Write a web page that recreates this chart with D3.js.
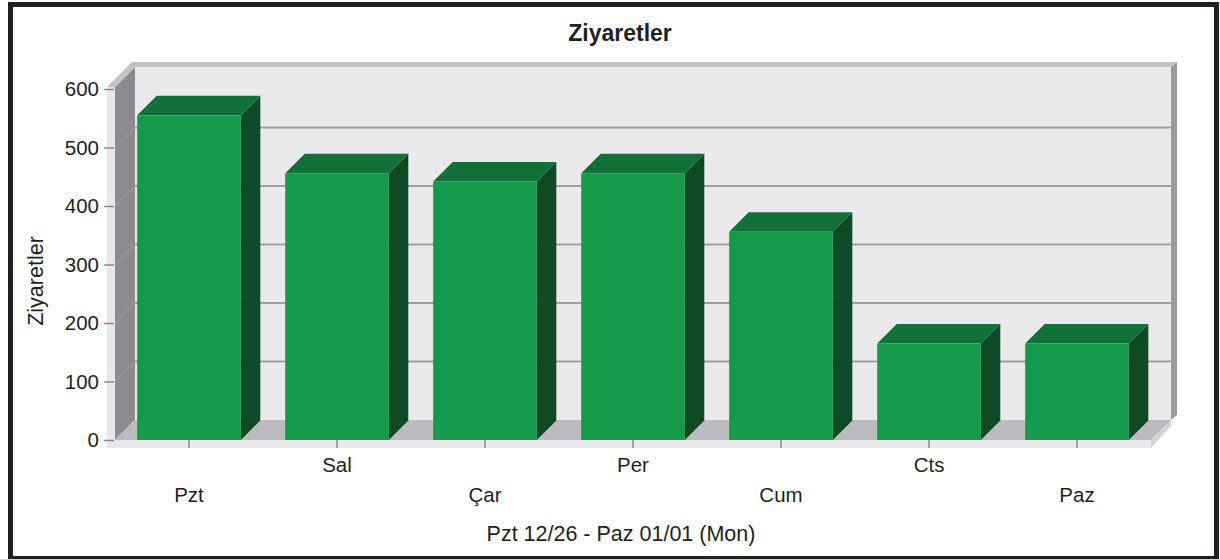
<!DOCTYPE html>
<html>
<head>
<meta charset="utf-8">
<script src="https://cdn.jsdelivr.net/npm/d3@7"></script>
<style>
    body { margin: 0; background: #fff; }
    svg { display: block; font-family: "Liberation Sans", Arial, sans-serif; }
    text { fill: #231f20; }
</style>
</head>
<body>
<svg id="chart" width="1220" height="559"></svg>
<script>
const categories = ['Pzt', 'Sal', 'Çar', 'Per', 'Cum', 'Cts', 'Paz'];
const visits = [555, 456, 442, 456, 356, 165, 165];
const yTicks = [0, 100, 200, 300, 400, 500, 600];
const gridValues = [100, 200, 300, 400, 500];
const chartTitle = 'Ziyaretler';
const yTitle = 'Ziyaretler';
const xTitle = 'Pzt 12/26 - Paz 01/01 (Mon)';

const svg = d3.select('#chart');
const depth = 20;      // depth of the 3d box
const barDepth = 19.5;

const x = d3.scaleBand()
    .domain(categories)
    .range([115, 1151])
    .paddingInner(0.3)
    .paddingOuter(0.15);
const y = d3.scaleLinear().domain([0, 600]).range([440, 89]);
const y0 = y(0);

const poly = (pts, fill) => svg.append('polygon')
    .attr('points', pts.map(p => p.join(',')).join(' '))
    .attr('fill', fill);

// back wall
const left = x.range()[0], right = x.range()[1];
svg.append('rect')
    .attr('x', left + depth).attr('y', y(600) - depth - 2)
    .attr('width', right - left).attr('height', y0 - y(600) + 2)
    .attr('fill', '#eaeaec');
poly([[left + depth - 8, y(600) - depth - 2], [right + depth, y(600) - depth - 2],
      [right + depth + 6, y(600) - depth - 7], [left + depth - 3, y(600) - depth - 7]], '#c3c3c5');
poly([[right + depth, y(600) - depth - 2], [right + depth + 6, y(600) - depth - 7],
      [right + depth + 6, y0 - depth - 5], [right + depth, y0 - depth]], '#9a9a9d');

// gridlines on the back wall
svg.append('g').selectAll('line')
    .data(gridValues)
    .join('line')
    .attr('x1', left + depth).attr('x2', right + depth)
    .attr('y1', d => y(d) - depth).attr('y2', d => y(d) - depth)
    .attr('stroke', '#9e9ea0')
    .attr('stroke-width', 2);

// left wall
poly([[left, y(600) - 2], [left + depth, y(600) - depth - 2], [left + depth, y0 - depth], [left, y0]], '#8b8c8f');
poly([[left - 8, y(600) - 2], [left, y(600) - 2], [left + depth + 5, y(600) - depth - 7], [left + depth - 3, y(600) - depth - 7]], '#c3c3c5');
poly([[left - 8, y(600) - 2], [left, y(600) - 2], [left, y0 + 8], [left - 8, y0 + 8]], '#e8e8ea');
svg.append('g').selectAll('line')
    .data(gridValues)
    .join('line')
    .attr('x1', left).attr('x2', left + depth)
    .attr('y1', d => y(d)).attr('y2', d => y(d) - depth)
    .attr('stroke', '#a3a3a6')
    .attr('stroke-width', 1);

// floor
poly([[left, y0], [right, y0], [right + depth, y0 - depth], [left + depth, y0 - depth]], '#bcbcc0');
poly([[left - 8, y0], [right, y0], [right, y0 + 8], [left - 8, y0 + 8]], '#e8e8ea');
poly([[right, y0], [right + depth, y0 - depth], [right + depth, y0 - depth + 6], [right, y0 + 8]], '#d4d4d6');

// bars
const bars = svg.append('g');
categories.forEach((c, i) => {
    const x0 = x(c), x1 = x(c) + x.bandwidth(), yv = y(visits[i]);
    const g = bars.append('g');
    g.append('polygon')
        .attr('points', [[x1, yv], [x1 + barDepth, yv - barDepth], [x1 + barDepth, y0 - barDepth], [x1, y0]].join(' '))
        .attr('fill', '#0e4b25');
    g.append('polygon')
        .attr('points', [[x0, yv], [x1, yv], [x1 + barDepth, yv - barDepth], [x0 + barDepth, yv - barDepth]].join(' '))
        .attr('fill', '#127139');
    g.append('rect')
        .attr('x', x0).attr('y', yv)
        .attr('width', x.bandwidth()).attr('height', y0 - yv)
        .attr('fill', '#149a48');
});

// y axis
const yAxis = svg.append('g')
    .attr('transform', `translate(${left - 1},0)`)
    .call(d3.axisLeft(y).tickValues(yTicks).tickSize(10).tickPadding(5));
yAxis.select('.domain').remove();
yAxis.selectAll('line').attr('stroke', '#8c8c8e').attr('stroke-width', 1.5);
yAxis.selectAll('text')
    .attr('font-size', 20.5)
    .attr('font-family', '"Liberation Sans", Arial, sans-serif')
    .attr('fill', '#231f20');

// x axis
const xAxis = svg.append('g')
    .attr('transform', `translate(0,${y0})`)
    .call(d3.axisBottom(x).tickSize(8).tickPadding(0));
xAxis.select('.domain').remove();
xAxis.selectAll('line').attr('stroke', '#8c8c8e').attr('stroke-width', 1.5);
xAxis.selectAll('text')
    .attr('font-size', 20.5)
    .attr('font-family', '"Liberation Sans", Arial, sans-serif')
    .attr('fill', '#231f20')
    .attr('dy', 0)
    .attr('y', (d, i) => i % 2 === 0 ? 62 : 32);

// titles
svg.append('text')
    .attr('x', 620).attr('y', 41)
    .attr('text-anchor', 'middle')
    .attr('font-size', 23)
    .attr('font-weight', 'bold')
    .text(chartTitle);

svg.append('text')
    .attr('transform', 'translate(43,281) rotate(-90)')
    .attr('text-anchor', 'middle')
    .attr('font-size', 21.5)
    .text(yTitle);

svg.append('text')
    .attr('x', 621).attr('y', 541)
    .attr('text-anchor', 'middle')
    .attr('font-size', 21.5)
    .text(xTitle);

// frame
svg.append('rect')
    .attr('x', 10.5).attr('y', 4.5)
    .attr('width', 1206).attr('height', 554)
    .attr('fill', 'none')
    .attr('stroke', '#231f20')
    .attr('stroke-width', 5);
</script>
</body>
</html>
